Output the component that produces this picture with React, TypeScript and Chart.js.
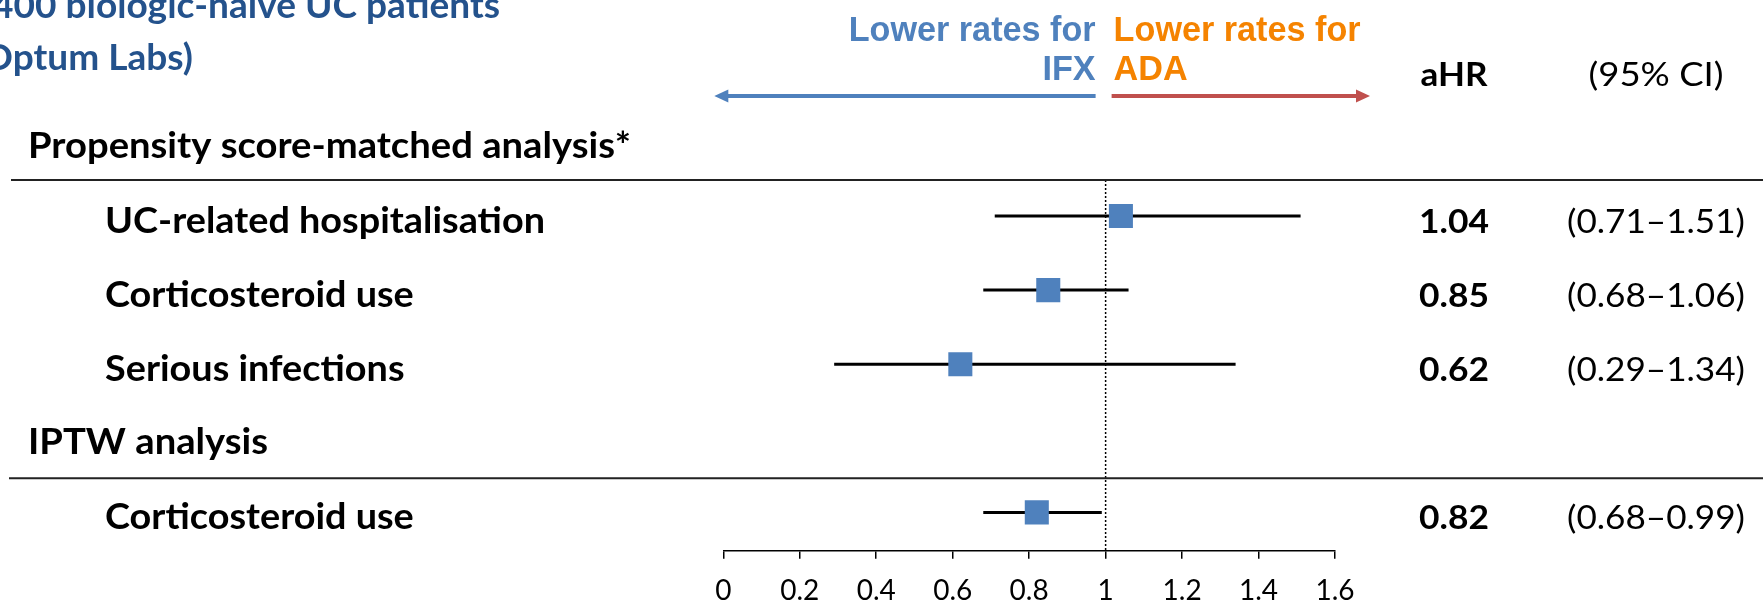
import React, { useEffect, useRef } from 'react';
import { Chart, registerables } from 'chart.js';

Chart.register(...registerables);

// ---- data ----
const TITLE_LINES = ['400 biologic-naive UC patients', '(Optum Labs)'];
const LEFT_LABEL = ['Lower rates for', 'IFX'];
const RIGHT_LABEL = ['Lower rates for', 'ADA'];
const COL_HEADERS = ['aHR', '(95% CI)'];
const SECTION_LABELS = ['Propensity score-matched analysis*', 'IPTW analysis'];
const SECTION_SLOTS = [-1, 3];
const ROW_LABELS = ['UC-related hospitalisation', 'Corticosteroid use', 'Serious infections', 'Corticosteroid use'];
const ROW_SLOTS = [0, 1, 2, 4];
const AHR = [1.04, 0.85, 0.62, 0.82];
const CI_LOW = [0.71, 0.68, 0.29, 0.68];
const CI_HIGH = [1.51, 1.06, 1.34, 0.99];
const X_TICKS = [0, 0.2, 0.4, 0.6, 0.8, 1, 1.2, 1.4, 1.6];
const X_TICK_LABELS = ['0', '0.2', '0.4', '0.6', '0.8', '1', '1.2', '1.4', '1.6'];
const REF_VALUE = 1;

// ---- layout ----
const W = 1763;
const H = 601;
const Y_MIN = -0.486;
const Y_MAX = 4.517;
const BLUE = '#4F81BD';
const ORANGE = '#F58300';
const RED = '#C0504D';
const TITLE_BLUE = '#24528C';
const CALIBRI = 'Lato, "Noto Sans", sans-serif';
const ARIAL = '"Liberation Sans", Arial, sans-serif';
const CAP_RATIO = 0.7165;

const overlay = {
  id: 'overlay',
  afterDraw(chart: any) {
    const ctx: CanvasRenderingContext2D = chart.ctx;
    const xs = chart.scales.x;
    const ys = chart.scales.y;
    const fit = (text: string, weight: string, family: string, width: number) => {
      ctx.font = `${weight} 100px ${family}`;
      return (100 * width) / ctx.measureText(text).width;
    };
    const style = (weight: string, capH: number, refText: string, refWidth: number) => {
      const size = capH / CAP_RATIO;
      const font = `${weight} ${size}px ${CALIBRI}`;
      ctx.font = font;
      const sx = refWidth / ctx.measureText(refText).width;
      return { font, sx };
    };
    const draw = (
      text: string,
      x: number,
      y: number,
      align: CanvasTextAlign,
      st: { font: string; sx: number },
      color = '#000'
    ) => {
      ctx.save();
      ctx.font = st.font;
      ctx.fillStyle = color;
      ctx.textAlign = align;
      ctx.textBaseline = 'alphabetic';
      ctx.translate(x, y);
      ctx.scale(st.sx, 1);
      ctx.fillText(text, 0, 0);
      ctx.restore();
    };
    ctx.save();

    // title (cut at left)
    const titleSt = style('bold', 26, TITLE_LINES[0], 508);
    draw(TITLE_LINES[0], 500, 18, 'right', titleSt, TITLE_BLUE);
    draw(TITLE_LINES[1], 193, 70, 'right', titleSt, TITLE_BLUE);

    // direction labels
    const refPx = xs.getPixelForValue(REF_VALUE);
    const arrSize = fit(LEFT_LABEL[0], 'bold', ARIAL, 247);
    ctx.font = `bold ${arrSize}px ${ARIAL}`;
    ctx.textBaseline = 'alphabetic';
    ctx.fillStyle = BLUE;
    ctx.textAlign = 'right';
    ctx.fillText(LEFT_LABEL[0], refPx - 10, 41);
    ctx.fillText(LEFT_LABEL[1], refPx - 10, 80);
    ctx.fillStyle = ORANGE;
    ctx.textAlign = 'left';
    ctx.fillText(RIGHT_LABEL[0], refPx + 8, 41);
    ctx.fillText(RIGHT_LABEL[1], refPx + 8, 80);

    // arrows
    const ay = 96;
    const drawArrow = (x0: number, x1: number, color: string) => {
      ctx.strokeStyle = color;
      ctx.fillStyle = color;
      ctx.lineWidth = 4;
      const dir = Math.sign(x1 - x0);
      ctx.beginPath();
      ctx.moveTo(x0, ay);
      ctx.lineTo(x1 - dir * 12, ay);
      ctx.stroke();
      ctx.beginPath();
      ctx.moveTo(x1, ay);
      ctx.lineTo(x1 - dir * 14, ay - 6.5);
      ctx.lineTo(x1 - dir * 14, ay + 6.5);
      ctx.closePath();
      ctx.fill();
    };
    drawArrow(refPx - 10, xs.getPixelForValue(0) - 9, BLUE);
    drawArrow(refPx + 6, xs.getPixelForValue(1.6) + 35, RED);

    // column headers
    const valSt = style('bold', 23.3, '1.04', 70);
    const ciSt = style('normal', 23.3, '(0.68–1.06)', 178);
    const ahrSt = style('bold', 23, COL_HEADERS[0], 67);
    const ciHeadSt = style('normal', 23, COL_HEADERS[1], 135);
    draw(COL_HEADERS[0], 1454, 86, 'center', ahrSt);
    draw(COL_HEADERS[1], 1656, 86, 'center', ciHeadSt);

    // separators
    ctx.strokeStyle = '#222';
    ctx.lineWidth = 2;
    const top = chart.chartArea.top;
    const sep2 = (ys.getPixelForValue(3) + ys.getPixelForValue(4)) / 2 + 3;
    ctx.beginPath();
    ctx.moveTo(11, top);
    ctx.lineTo(W, top);
    ctx.moveTo(9, sep2);
    ctx.lineTo(W, sep2);
    ctx.stroke();

    // section labels
    const secSt = style('bold', 25.5, SECTION_LABELS[0], 603);
    const rowSt = style('bold', 26.5, ROW_LABELS[0], 440);
    SECTION_LABELS.forEach((t, i) => {
      draw(t, 28, ys.getPixelForValue(SECTION_SLOTS[i]) + 16, 'left', secSt);
    });

    // row labels and values
    ROW_LABELS.forEach((t, i) => {
      const y = ys.getPixelForValue(ROW_SLOTS[i]) + 17;
      draw(t, 105, y, 'left', rowSt);
      draw(AHR[i].toFixed(2), 1454, y, 'center', valSt);
      draw(`(${CI_LOW[i].toFixed(2)}–${CI_HIGH[i].toFixed(2)})`, 1656, y, 'center', ciSt);
    });

    ctx.restore();
  },
};

export default function App() {
  const ref = useRef<HTMLCanvasElement>(null);

  useEffect(() => {
    if (!ref.current) return;
    const ciSets = ROW_SLOTS.map((slot, i) => ({
      type: 'line' as const,
      data: [
        { x: CI_LOW[i], y: slot },
        { x: CI_HIGH[i], y: slot },
      ],
      borderColor: '#000',
      borderWidth: 3,
      pointRadius: 0,
      showLine: true,
      order: 1,
    }));
    const chart = new Chart(ref.current, {
      type: 'scatter',
      data: {
        datasets: [
          ...ciSets,
          {
            type: 'scatter' as const,
            data: ROW_SLOTS.map((slot, i) => ({ x: AHR[i], y: slot })),
            pointStyle: 'rect',
            pointRadius: 17,
            pointHoverRadius: 17,
            backgroundColor: BLUE,
            borderColor: BLUE,
            borderWidth: 0,
            order: 0,
          },
          {
            type: 'line' as const,
            data: [
              { x: REF_VALUE, y: Y_MIN },
              { x: REF_VALUE, y: Y_MAX },
            ],
            borderColor: '#000',
            borderWidth: 1.5,
            borderDash: [2, 2],
            pointRadius: 0,
            showLine: true,
            order: 2,
          },
        ] as any,
      },
      options: {
        animation: false,
        responsive: true,
        maintainAspectRatio: false,
        events: [],
        layout: { padding: { left: 723.3, right: 428, top: 180, bottom: 0.3 } },
        plugins: { legend: { display: false }, tooltip: { enabled: false } },
        scales: {
          x: {
            type: 'linear',
            position: 'bottom',
            min: 0,
            max: 1.6,
            afterBuildTicks: (s: any) => {
              s.ticks = X_TICKS.map((v) => ({ value: v }));
            },
            afterFit: (s: any) => {
              s.height = 50;
            },
            ticks: {
              callback: (_v: any, i: number) => X_TICK_LABELS[i],
              font: { family: CALIBRI, size: 28 },
              color: '#000',
              padding: 15,
              maxRotation: 0,
              autoSkip: false,
            },
            grid: { drawOnChartArea: false, drawTicks: true, tickLength: 8, color: '#000', lineWidth: 1.5 },
            border: { display: true, color: '#000', width: 1.5 },
          },
          y: { type: 'linear', min: Y_MIN, max: Y_MAX, reverse: true, display: false },
        },
      } as any,
      plugins: [overlay],
    });
    return () => chart.destroy();
  }, []);

  return (
    <div style={{ position: 'absolute', left: 0, top: 0, width: W, height: H, background: '#fff' }}>
      <canvas ref={ref} />
    </div>
  );
}
